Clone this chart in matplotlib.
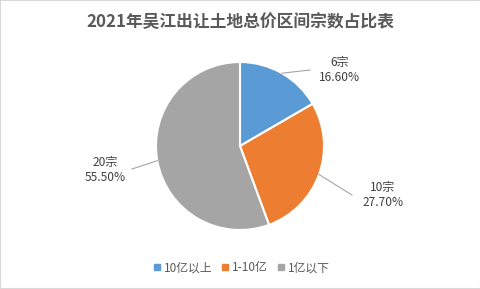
import numpy as np
import matplotlib
matplotlib.use("Agg")
import matplotlib.pyplot as plt
from matplotlib.lines import Line2D
from matplotlib.patches import Rectangle

plt.rcParams['font.family'] = ['Noto Sans CJK SC', 'DejaVu Sans']

# ====== DATA ======
categories = ['10亿以上', '1-10亿', '1亿以下']
counts = [6, 10, 20]
shares = [16.60, 27.70, 55.50]
colors = ['#5B9BD5', '#ED7D31', '#A5A5A5']
title = '2021年吴江出让土地总价区间宗数占比表'

# ====== FIGURE ======
W, H = 481, 289
fig = plt.figure(figsize=(W / 100, H / 100), dpi=100)
ax = fig.add_axes([0, 0, 1, 1])

cx, cy, R = 240, H - 146, 84
wedges, _ = ax.pie(shares, colors=colors, startangle=90, counterclock=False,
                   center=(cx, cy), radius=R,
                   wedgeprops=dict(edgecolor='white', linewidth=1.5))
ax.set_xlim(0, W)
ax.set_ylim(0, H)
ax.set_aspect('equal')
ax.axis('off')

# data labels with leader lines (elbow point, text anchor) in pixel offsets
label_pos = [((310, 70), (340, 70)),
             ((352, 195), (383, 195)),
             ((132, 169), (105, 170))]
for w, n, s, (elbow, txt) in zip(wedges, counts, shares, label_pos):
    mid = np.deg2rad((w.theta1 + w.theta2) / 2)
    x0, y0 = cx + R * np.cos(mid), cy + R * np.sin(mid)
    ex, ey = elbow[0], H - elbow[1]
    ax.plot([x0, ex], [y0, ey], color='#A6A6A6', lw=0.8)
    ax.text(txt[0], H - txt[1], f'{n}宗\n{s:.2f}%', ha='center', va='center',
            fontsize=8.6, color='#404040', linespacing=1.15)

ax.text(W / 2, H - 22, title, ha='center', va='center', fontsize=12.1,
        fontweight='bold', color='#595959')

handles = [Line2D([], [], marker='s', ls='', color=c, markersize=5) for c in colors]
fig.legend(handles, categories, loc='center', bbox_to_anchor=(0.5, 21 / H),
           ncol=3, frameon=False, fontsize=8.5, labelcolor='#595959',
           handletextpad=0.1, columnspacing=0.6, handlelength=1.0)

fig.patches.append(Rectangle((0, 0), 1, 1, transform=fig.transFigure,
                             fill=False, edgecolor='#D9D9D9', lw=1.5))

fig.savefig('out.png', dpi=100)
